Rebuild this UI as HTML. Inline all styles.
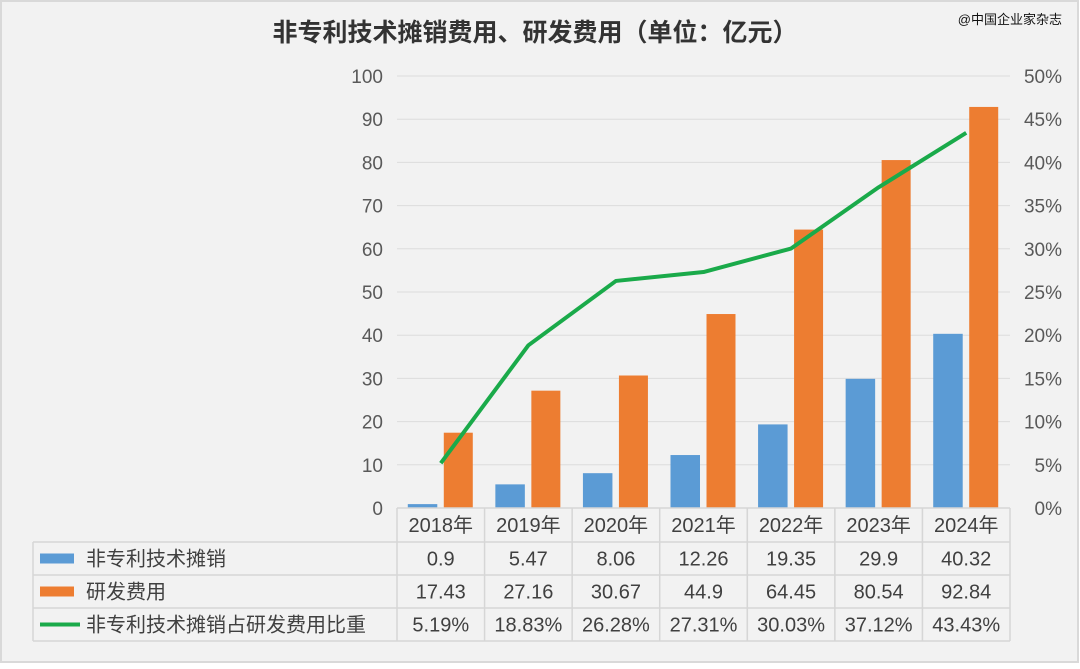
<!DOCTYPE html>
<html><head><meta charset="utf-8"><style>
html,body{margin:0;padding:0;}
body{width:1080px;height:664px;background:#fff;font-family:"Liberation Sans","Noto Sans CJK SC",sans-serif;}
svg text{font-family:"Liberation Sans","Noto Sans CJK SC",sans-serif;}
</style></head><body>
<svg id="chart" width="1080" height="664" xmlns="http://www.w3.org/2000/svg">
<rect x="1" y="1" width="1077" height="661" fill="#f2f2f2" stroke="#d9d9d9" stroke-width="2"/>
<text x="535" y="41" text-anchor="middle" font-size="25" font-weight="bold" fill="#333">非专利技术摊销费用、研发费用（单位：亿元）</text>
<text x="1062" y="24" text-anchor="end" font-size="13" fill="#111">@中国企业家杂志</text>
<g id="grid"></g><g id="bars"></g><g id="line"></g><g id="axes"></g><g id="table"></g>
</svg>
<script>
const categories=["2018年","2019年","2020年","2021年","2022年","2023年","2024年"];
const amort=[0.9,5.47,8.06,12.26,19.35,29.9,40.32];
const rnd=[17.43,27.16,30.67,44.9,64.45,80.54,92.84];
const ratio=[5.19,18.83,26.28,27.31,30.03,37.12,43.43];
const ratioLabels=["5.19%","18.83%","26.28%","27.31%","30.03%","37.12%","43.43%"];
const leftTicks=[0,10,20,30,40,50,60,70,80,90,100];
const rightTicks=[0,5,10,15,20,25,30,35,40,45,50];
const NS="http://www.w3.org/2000/svg";
const X0=397,X1=1010,Y0=508,Y1=76;
const cw=(X1-X0)/categories.length;
const y=v=>Y0-(v/100)*(Y0-Y1);
const yr=p=>Y0-(p/50)*(Y0-Y1);
const xc=i=>X0+cw*(i+0.5);
function mk(tag,attrs,parent){const e=document.createElementNS(NS,tag);for(const k in attrs)e.setAttribute(k,attrs[k]);document.getElementById(parent).appendChild(e);return e;}
leftTicks.forEach((t,i)=>{
 if(t>0){const g=mk('line',{x1:X0,x2:X1,y1:y(t),y2:y(t),stroke:'#dcdcdc','stroke-width':1},'grid');
 
 }
 const l=mk('text',{x:383,y:y(t)+7,'text-anchor':'end','font-size':19,fill:'#595959'},'axes');l.textContent=t;
 
 
});
rightTicks.forEach(t=>{
 const l=mk('text',{x:1062,y:yr(t)+7,'text-anchor':'end','font-size':19,fill:'#595959'},'axes');l.textContent=t+'%';
 
 
});
categories.forEach((c,i)=>{
 const b=mk('rect',{x:xc(i)-33,y:y(amort[i]),width:29.5,height:Y0-y(amort[i]),fill:'#5b9bd5'},'bars');
 
 
 const o=mk('rect',{x:xc(i)+3,y:y(rnd[i]),width:29,height:Y0-y(rnd[i]),fill:'#ed7d31'},'bars');
 
 
});
const pl=mk('polyline',{points:ratio.map((p,i)=>xc(i)+','+yr(p)).join(' '),fill:'none',stroke:'#1aaa4a','stroke-width':4,'stroke-linejoin':'round'},'line');


// table
const rowsY=[508,542,575,608,641];
const st={stroke:'#d6d6d6','stroke-width':1.5,fill:'none'};
function ln(x1,y1,x2,y2){const l=mk('line',Object.assign({x1,y1,x2,y2},st),'table');}
ln(X0,508,X1,508);ln(33,542,X1,542);ln(33,575,X1,575);ln(33,608,X1,608);ln(33,641,X1,641);
ln(33,542,33,641);
for(let i=0;i<=7;i++)ln(X0+cw*i,508,X0+cw*i,641);
const rows=[categories,amort.map(String),rnd.map(String),ratioLabels];
rows.forEach((r,ri)=>r.forEach((v,i)=>{
 const t=mk('text',{x:xc(i),y:(rowsY[ri]+rowsY[ri+1])/2+7,'text-anchor':'middle','font-size':20,fill:'#404040'},'table');t.textContent=v;
 
 
}));
const legends=[["非专利技术摊销","#5b9bd5","rect"],["研发费用","#ed7d31","rect"],["非专利技术摊销占研发费用比重","#1aaa4a","line"]];
legends.forEach((L,k)=>{
 const cy=(rowsY[k+1]+rowsY[k+2])/2;
 let m;
 if(L[2]==='rect')m=mk('rect',{x:40,y:cy-5,width:34,height:10,fill:L[1]},'table');
 else m=mk('line',{x1:40,x2:80,y1:cy,y2:cy,stroke:L[1],'stroke-width':4},'table');
 
 
 const t=mk('text',{x:86,y:cy+7,'font-size':20,fill:'#404040'},'table');t.textContent=L[0];
 
 
});
</script>
</body></html>
